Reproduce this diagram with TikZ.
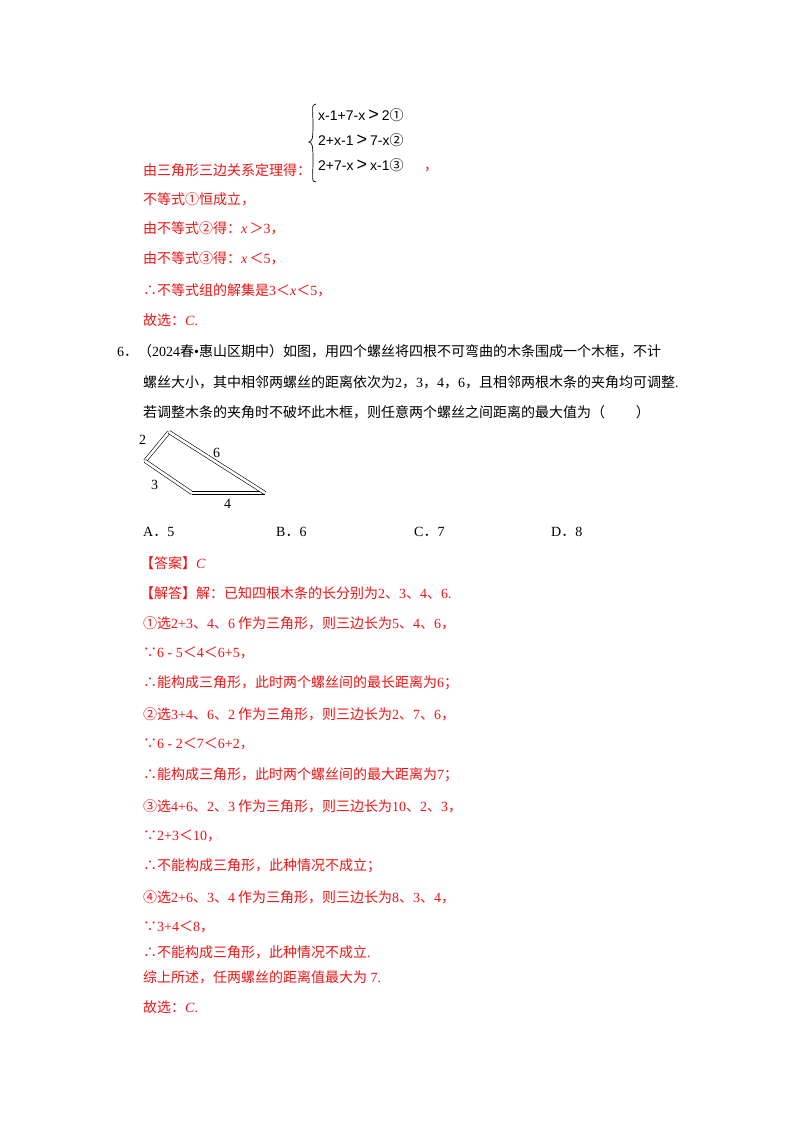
\documentclass[tikz,border=0pt]{standalone}
\usepackage{fontspec}
\setmainfont{Liberation Serif}
\newfontfamily\cjk{Noto Sans CJK SC}
\newfontfamily\lsans{Liberation Sans}
\newcommand\rr[1]{{\rmfamily #1}}
\newcommand\ii[1]{{\rmfamily\itshape #1}}
\newcommand\biggt{{\fontsize{18}{18}\selectfont\,>\,}}
\definecolor{ans}{RGB}{240,20,20}
\begin{document}
\begin{tikzpicture}[x=1pt,y=-1pt,
  t/.style={anchor=west,inner sep=0,font=\cjk\fontsize{14}{14}\selectfont},
  a/.style={t,text=ans},
  sy/.style={t,font=\lsans\fontsize{14}{14}\selectfont},
  bar/.style={draw,double=white,double distance=2.6pt,line width=0.6pt,line join=miter}]
\useasboundingbox (0,0) rectangle (800,1132);
% system
\node[sy] (s1) at (318,115) {x-1+7-x\biggt 2{\cjk ①}};
\node[sy] (s2) at (318,140) {2+x-1\biggt 7-x{\cjk ②}};
\node[sy] (s3) at (318,165) {2+7-x\biggt x-1{\cjk ③}};
\draw[line width=0.7pt] (316,104) .. controls (311,104) and (313,110) .. (313,125) .. controls (313,140) and (312,141) .. (309,142) .. controls (312,143) and (313,144) .. (313,160) .. controls (313,178) and (311,182) .. (316,182);
\node[a] (l1) at (143,170) {由三角形三边关系定理得：};
\node[a] (c1) at (424,170) {，};
\node[a] (l2) at (143,199) {不等式①恒成立，};
\node[a] (l3) at (143,228) {由不等式②得：\ii{x}\,＞\rr{3}，};
\node[a] (l4) at (143,258) {由不等式③得：\ii{x}\,＜\rr{5}，};
\node[a] (l5) at (143,290) {∴不等式组的解集是\rr{3}＜\ii{x}＜\rr{5}，};
\node[a] (l6) at (143,320) {故选：\ii{C}\rr{.}};
% question
\node[t] (q1) at (117,351) {\rr{6}．（\rr{2024}春\rr{•}惠山区期中）如图，用四个螺丝将四根不可弯曲的木条围成一个木框，不计};
\node[t] (q2) at (143,382) {螺丝大小，其中相邻两螺丝的距离依次为\rr{2}，\rr{3}，\rr{4}，\rr{6}，且相邻两根木条的夹角均可调整\rr{.}};
\node[t] (q3) at (143,412) {若调整木条的夹角时不破坏此木框，则任意两个螺丝之间距离的最大值为（\hspace{2.2em}）};
% figure
\coordinate (T) at (169,432);
\coordinate (L) at (145,461);
\coordinate (BL) at (192,493);
\coordinate (BR) at (265,493);
\draw[bar] (T) -- (L);
\draw[bar] (L) -- (BL);
\draw[bar] (BL) -- (BR);
\draw[bar] (BR) -- (T);
\node[t,font=\rmfamily\fontsize{14}{14}\selectfont] (n2) at (139,440) {2};
\node[t,font=\rmfamily\fontsize{14}{14}\selectfont] (n6) at (213,453) {6};
\node[t,font=\rmfamily\fontsize{14}{14}\selectfont] (n3) at (151,485) {3};
\node[t,font=\rmfamily\fontsize{14}{14}\selectfont] (n4) at (224,504) {4};
% options
\node[t] (oa) at (143,532) {\rr{A}．\rr{5}};
\node[t] (ob) at (276,532) {\rr{B}．\rr{6}};
\node[t] (oc) at (414,532) {\rr{C}．\rr{7}};
\node[t] (od) at (551,532) {\rr{D}．\rr{8}};
% answer
\node[a] (b1) at (140,563) {【答案】\ii{C}};
\node[a] (b2) at (140,593) {【解答】解：已知四根木条的长分别为\rr{2}、\rr{3}、\rr{4}、\rr{6}\rr{.}};
\node[a] (b3) at (143,623) {①选\rr{2+3}、\rr{4}、\rr{6} 作为三角形，则三边长为\rr{5}、\rr{4}、\rr{6}，};
\node[a] (b4) at (143,653) {∵\rr{6 - 5}＜\rr{4}＜\rr{6+5}，};
\node[a] (b5) at (143,683) {∴能构成三角形，此时两个螺丝间的最长距离为\rr{6}；};
\node[a] (b6) at (143,714) {②选\rr{3+4}、\rr{6}、\rr{2} 作为三角形，则三边长为\rr{2}、\rr{7}、\rr{6}，};
\node[a] (b7) at (143,744) {∵\rr{6 - 2}＜\rr{7}＜\rr{6+2}，};
\node[a] (b8) at (143,775) {∴能构成三角形，此时两个螺丝间的最大距离为\rr{7}；};
\node[a] (b9) at (143,806) {③选\rr{4+6}、\rr{2}、\rr{3} 作为三角形，则三边长为\rr{10}、\rr{2}、\rr{3}，};
\node[a] (b10) at (143,836) {∵\rr{2+3}＜\rr{10}，};
\node[a] (b11) at (143,866) {∴不能构成三角形，此种情况不成立；};
\node[a] (b12) at (143,897) {④选\rr{2+6}、\rr{3}、\rr{4} 作为三角形，则三边长为\rr{8}、\rr{3}、\rr{4}，};
\node[a] (b13) at (143,927) {∵\rr{3+4}＜\rr{8}，};
\node[a] (b14) at (143,952) {∴不能构成三角形，此种情况不成立\rr{.}};
\node[a] (b15) at (143,977) {综上所述，任两螺丝的距离值最大为\rr{ 7.}};
\node[a] (b16) at (143,1007) {故选：\ii{C}\rr{.}};
\end{tikzpicture}
\end{document}
